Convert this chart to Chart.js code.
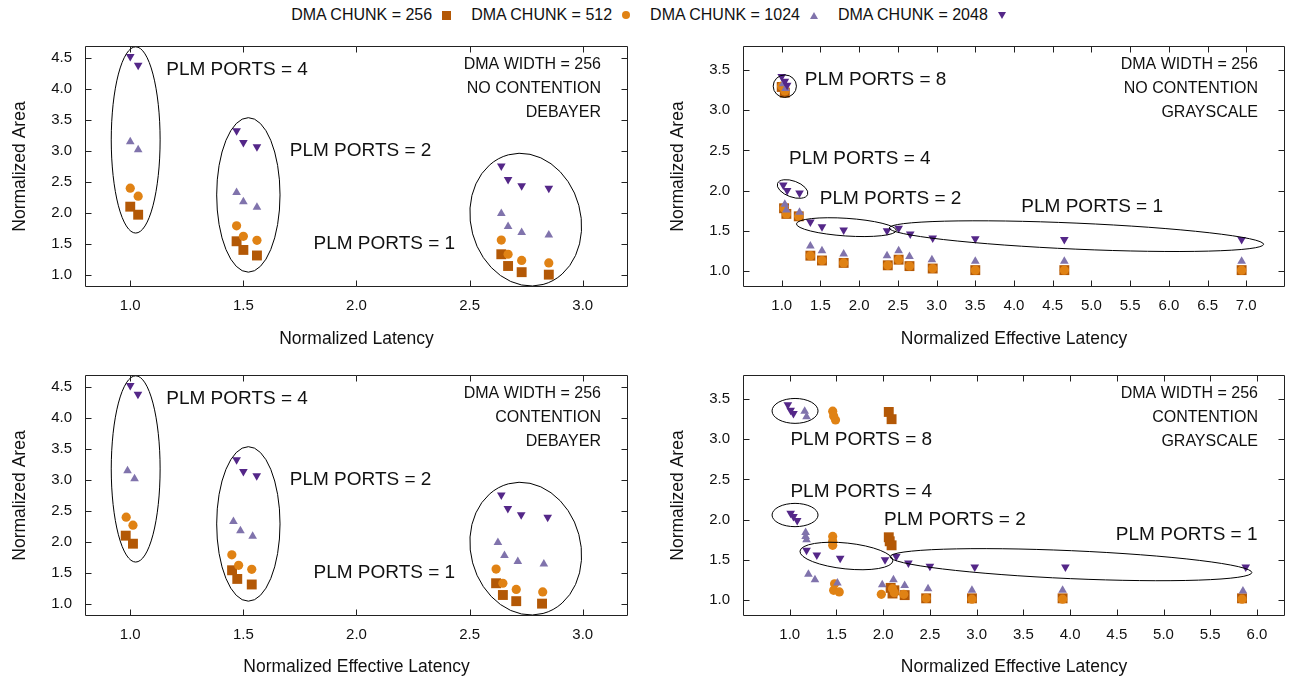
<!DOCTYPE html>
<html lang="en">
<head>
<meta charset="UTF-8">
<title>DMA chunk / PLM ports</title>
<script src="https://cdn.jsdelivr.net/npm/chart.js@4.4.1/dist/chart.umd.min.js"></script>
<style>
  body { margin: 0; background: #fff; width: 1297px; height: 681px; position: relative; overflow: hidden;
         font-family: "Liberation Sans", Arial, sans-serif; color: #111; }
  canvas { position: absolute; }
  #legend { position: absolute; top: 4px; left: 0; width: 1297px; display: flex; justify-content: center;
            align-items: center; font-size: 16px; height: 22px; }
  .item { display: flex; align-items: center; margin: 0 10px; }
  .item span.mk { margin-left: 10px; display: inline-block; }
  .sq { width: 9px; height: 9px; background: #b35806; }
  .ci { width: 8px; height: 8px; border-radius: 50%; background: #e08214; }
  .up { width: 0; height: 0; border-left: 4px solid transparent; border-right: 4px solid transparent; border-bottom: 7px solid #8073ac; }
  .dn { width: 0; height: 0; border-left: 4px solid transparent; border-right: 4px solid transparent; border-top: 7px solid #542788; }
</style>
</head>
<body>
<div id="legend">
  <div class="item">DMA CHUNK = 256<span class="mk sq"></span></div>
  <div class="item">DMA CHUNK = 512<span class="mk ci"></span></div>
  <div class="item">DMA CHUNK = 1024<span class="mk up"></span></div>
  <div class="item">DMA CHUNK = 2048<span class="mk dn"></span></div>
</div>
<canvas id="c1" width="648" height="330" style="left:0;top:30px"></canvas>
<canvas id="c2" width="639" height="330" style="left:658px;top:30px"></canvas>
<canvas id="c3" width="648" height="322" style="left:0;top:359px"></canvas>
<canvas id="c4" width="639" height="322" style="left:658px;top:359px"></canvas>
<script>
// series: [normalized latency, normalized area]
// debayer, no contention
const debNo256  = [[1.0,2.10],[1.035,1.97],[1.47,1.54],[1.50,1.40],[1.56,1.31],[2.64,1.33],[2.67,1.14],[2.73,1.04],[2.85,1.00]];
const debNo512  = [[1.0,2.40],[1.035,2.27],[1.47,1.79],[1.50,1.62],[1.56,1.555],[2.64,1.56],[2.67,1.33],[2.73,1.23],[2.85,1.19]];
const debNo1024 = [[1.0,3.15],[1.035,3.02],[1.47,2.33],[1.50,2.18],[1.56,2.09],[2.64,1.99],[2.67,1.78],[2.73,1.68],[2.85,1.64]];
const debNo2048 = [[1.0,4.53],[1.035,4.39],[1.47,3.33],[1.50,3.14],[1.56,3.07],[2.64,2.76],[2.67,2.54],[2.73,2.44],[2.85,2.40]];
// debayer, contention
const debCo256  = [[0.98,2.10],[1.012,1.97],[1.45,1.54],[1.473,1.40],[1.537,1.31],[2.617,1.33],[2.647,1.14],[2.706,1.04],[2.82,1.00]];
const debCo512  = [[0.982,2.40],[1.012,2.27],[1.449,1.79],[1.479,1.62],[1.537,1.555],[2.617,1.56],[2.647,1.33],[2.706,1.23],[2.823,1.19]];
const debCo1024 = [[0.988,3.15],[1.019,3.02],[1.456,2.33],[1.487,2.18],[1.541,2.09],[2.625,1.99],[2.654,1.78],[2.713,1.68],[2.828,1.64]];
const debCo2048 = [[1.0,4.53],[1.034,4.39],[1.47,3.33],[1.50,3.14],[1.559,3.07],[2.64,2.76],[2.669,2.54],[2.728,2.44],[2.845,2.40]];
// grayscale, no contention
const grNo256  = [[1.0,3.29],[1.04,3.22],[1.03,1.78],[1.06,1.71],[1.22,1.68],[1.37,1.19],[1.52,1.13],[1.80,1.10],[2.37,1.07],[2.51,1.14],[2.65,1.06],[2.95,1.03],[3.5,1.01],[4.65,1.01],[6.94,1.01]];
const grNo512  = [[1.0,3.30],[1.04,3.24],[1.03,1.78],[1.06,1.71],[1.22,1.68],[1.37,1.19],[1.52,1.13],[1.80,1.10],[2.37,1.07],[2.51,1.14],[2.65,1.06],[2.95,1.03],[3.5,1.01],[4.65,1.01],[6.94,1.01]];
const grNo1024 = [[1.02,3.33],[1.05,3.27],[1.04,1.83],[1.06,1.76],[1.23,1.73],[1.37,1.31],[1.52,1.25],[1.80,1.21],[2.36,1.19],[2.51,1.25],[2.65,1.18],[2.94,1.14],[3.5,1.12],[4.65,1.12],[6.94,1.12]];
const grNo2048 = [[1.0,3.42],[1.04,3.36],[1.07,3.31],[1.02,2.07],[1.07,2.00],[1.23,1.97],[1.37,1.61],[1.52,1.55],[1.80,1.51],[2.36,1.50],[2.51,1.53],[2.66,1.46],[2.95,1.41],[3.5,1.40],[4.65,1.39],[6.94,1.39]];
// grayscale, contention
const grCo256  = [[2.06,3.34],[2.09,3.25],[2.06,1.78],[2.07,1.73],[2.09,1.68],[2.08,1.15],[2.10,1.08],[2.12,1.12],[2.23,1.06],[2.46,1.02],[2.95,1.02],[3.92,1.02],[5.84,1.02]];
const grCo512  = [[1.46,3.35],[1.47,3.29],[1.49,3.24],[1.46,1.79],[1.46,1.73],[1.46,1.68],[1.48,1.20],[1.47,1.12],[1.53,1.10],[1.98,1.07],[2.10,1.14],[2.12,1.09],[2.22,1.07],[2.46,1.02],[2.95,1.01],[3.92,1.01],[5.84,1.01]];
const grCo1024 = [[1.16,3.35],[1.18,3.28],[1.17,1.84],[1.17,1.79],[1.18,1.75],[1.20,1.32],[1.27,1.25],[1.51,1.21],[1.99,1.19],[2.11,1.25],[2.23,1.18],[2.48,1.14],[2.95,1.12],[3.92,1.12],[5.85,1.11]];
const grCo2048 = [[0.98,3.43],[1.01,3.36],[1.04,3.32],[1.01,2.08],[1.04,2.04],[1.08,1.99],[1.18,1.62],[1.29,1.56],[1.54,1.52],[2.02,1.50],[2.14,1.54],[2.27,1.46],[2.50,1.42],[2.98,1.41],[3.95,1.41],[5.88,1.41]];

const chunkLabels = ['DMA CHUNK = 256', 'DMA CHUNK = 512', 'DMA CHUNK = 1024', 'DMA CHUNK = 2048'];
const xTicksDeb = [1.0, 1.5, 2.0, 2.5, 3.0];
const yTicksDeb = [1.0, 1.5, 2.0, 2.5, 3.0, 3.5, 4.0, 4.5];
const xTicksGrNo = [1.0, 1.5, 2.0, 2.5, 3.0, 3.5, 4.0, 4.5, 5.0, 5.5, 6.0, 6.5, 7.0];
const xTicksGrCo = [1.0, 1.5, 2.0, 2.5, 3.0, 3.5, 4.0, 4.5, 5.0, 5.5, 6.0];
const yTicksGr = [1.0, 1.5, 2.0, 2.5, 3.0, 3.5];

const colors = ['#b35806', '#e08214', '#8073ac', '#542788'];
const FONT = '"Liberation Sans", Arial, sans-serif';

// ellipses: [cx, cy, rx, ry, angle(deg)] in data units
const ellDeb = [[1.024, 3.18, 0.108, 1.507, 0], [1.522, 2.29, 0.14, 1.25, 0], [2.748, 1.89, 0.243, 1.086, -15]];
const ellGrNo = [[1.04, 3.30, 0.15, 0.14, 0], [1.14, 2.02, 0.207, 0.10, 20], [1.835, 1.545, 0.646, 0.11, 3.8], [4.806, 1.433, 2.42, 0.162, 2.5]];
const ellGrCo = [[1.057, 3.353, 0.246, 0.155, 0], [1.057, 2.057, 0.246, 0.145, 0], [1.607, 1.547, 0.5, 0.161, 6], [4.009, 1.439, 1.938, 0.174, 2.5]];

const framePlugin = {
  id: 'frame',
  afterDraw(chart, args, opts) {
    const ctx = chart.ctx, a = chart.chartArea;
    const xs = chart.scales.x, ys = chart.scales.y;
    ctx.save();
    // ellipses
    ctx.strokeStyle = '#000';
    ctx.lineWidth = 1;
    opts.ellipses.forEach(e => {
      const cx = xs.getPixelForValue(e[0]), cy = ys.getPixelForValue(e[1]);
      const rx = Math.abs(xs.getPixelForValue(e[0] + e[2]) - cx);
      const ry = Math.abs(ys.getPixelForValue(e[1] + e[3]) - cy);
      ctx.beginPath();
      ctx.ellipse(cx, cy, rx, ry, e[4] * Math.PI / 180, 0, 2 * Math.PI);
      ctx.stroke();
    });
    // border and inward ticks
    ctx.strokeStyle = '#222';
    const L = Math.round(a.left) + 0.5, R = Math.round(a.right) - 0.5;
    const T = Math.round(a.top) + 0.5, B = Math.round(a.bottom) - 0.5;
    ctx.beginPath();
    ctx.rect(L, T, R - L, B - T);
    xs.ticks.forEach(t => {
      const p = Math.round(xs.getPixelForValue(t.value)) + 0.5;
      ctx.moveTo(p, B); ctx.lineTo(p, B - 6);
      ctx.moveTo(p, T); ctx.lineTo(p, T + 6);
    });
    ys.ticks.forEach(t => {
      const p = Math.round(ys.getPixelForValue(t.value)) + 0.5;
      ctx.moveTo(L, p); ctx.lineTo(L + 6, p);
      ctx.moveTo(R, p); ctx.lineTo(R - 6, p);
    });
    ctx.stroke();
    // text labels
    ctx.fillStyle = '#111';
    ctx.textBaseline = 'middle';
    ctx.font = '19px ' + FONT;
    ctx.textAlign = 'left';
    opts.notes.forEach(n => {
      ctx.fillText(n[2], xs.getPixelForValue(n[0]), ys.getPixelForValue(n[1]));
    });
    ctx.font = '16px ' + FONT;
    ctx.textAlign = 'right';
    opts.corner.forEach((s, i) => {
      ctx.fillText(s, a.right - 27, a.top + 19 + 24 * i);
    });
    ctx.restore();
  }
};

function toXY(arr) { return arr.map(p => ({ x: p[0], y: p[1] })); }

function makePanel(id, p) {
  const styles = [
    { pointStyle: 'rect', pointRadius: 7, rotation: 0 },
    { pointStyle: 'circle', pointRadius: 4.6, rotation: 0 },
    { pointStyle: 'triangle', pointRadius: 5, rotation: 0 },
    { pointStyle: 'triangle', pointRadius: 5, rotation: 180 }
  ];
  const datasets = p.series.map((s, i) => ({
    label: chunkLabels[i],
    data: toXY(s),
    pointStyle: styles[i].pointStyle,
    pointRadius: styles[i].pointRadius,
    pointHoverRadius: styles[i].pointRadius,
    rotation: styles[i].rotation,
    backgroundColor: colors[i],
    borderColor: colors[i],
    borderWidth: 0,
    order: 4 - i
  }));
  const tickFont = { family: FONT, size: 15 };
  const titleFont = { family: FONT, size: 17.5 };
  new Chart(document.getElementById(id), {
    type: 'scatter',
    data: { datasets },
    options: {
      responsive: false,
      animation: false,
      devicePixelRatio: 1,
      events: [],
      layout: { padding: { top: 16, right: p.padRight, left: 0, bottom: 0 } },
      plugins: {
        legend: { display: false },
        tooltip: { enabled: false },
        frame: { ellipses: p.ellipses, notes: p.notes, corner: p.corner }
      },
      scales: {
        x: {
          type: 'linear', min: p.xMin, max: p.xMax,
          afterBuildTicks: ax => { ax.ticks = p.xTicks.map(v => ({ value: v })); },
          afterFit: ax => { ax.height = p.xAxisH; ax.paddingLeft = 0; ax.paddingRight = 0; },
          grid: { display: false, drawTicks: false }, border: { display: false },
          ticks: { font: tickFont, color: '#111', padding: 10, maxRotation: 0, callback: v => Number(v).toFixed(1) },
          title: { display: true, text: p.xTitle, color: '#111', font: titleFont, padding: { top: 0, bottom: p.xTitlePad } }
        },
        y: {
          type: 'linear', min: p.yMin, max: p.yMax,
          afterBuildTicks: ax => { ax.ticks = p.yTicks.map(v => ({ value: v })); },
          afterFit: ax => { ax.width = 85; ax.paddingTop = 0; ax.paddingBottom = 0; },
          grid: { display: false, drawTicks: false }, border: { display: false },
          ticks: { font: tickFont, color: '#111', padding: 13, callback: v => Number(v).toFixed(1) },
          title: { display: true, text: 'Normalized Area', color: '#111', font: titleFont, padding: { top: 9.5, bottom: 0 } }
        }
      }
    },
    plugins: [framePlugin]
  });
}

makePanel('c1', {
  series: [debNo256, debNo512, debNo1024, debNo2048],
  xMin: 0.8, xMax: 3.2, yMin: 0.8, yMax: 4.7, xTicks: xTicksDeb, yTicks: yTicksDeb,
  xTitle: 'Normalized Latency', xAxisH: 73, xTitlePad: 10.5, padRight: 20,
  ellipses: ellDeb,
  notes: [[1.159, 4.31, 'PLM PORTS = 4'], [1.705, 3.0, 'PLM PORTS = 2'], [1.81, 1.507, 'PLM PORTS = 1']],
  corner: ['DMA WIDTH = 256', 'NO CONTENTION', 'DEBAYER']
});
makePanel('c2', {
  series: [grNo256, grNo512, grNo1024, grNo2048],
  xMin: 0.5, xMax: 7.5, yMin: 0.8, yMax: 3.8, xTicks: xTicksGrNo, yTicks: yTicksGr,
  xTitle: 'Normalized Effective Latency', xAxisH: 73, xTitlePad: 10.5, padRight: 12,
  ellipses: ellGrNo,
  notes: [[1.297, 3.384, 'PLM PORTS = 8'], [1.094, 2.40, 'PLM PORTS = 4'], [1.491, 1.904, 'PLM PORTS = 2'], [4.095, 1.80, 'PLM PORTS = 1']],
  corner: ['DMA WIDTH = 256', 'NO CONTENTION', 'GRAYSCALE']
});
makePanel('c3', {
  series: [debCo256, debCo512, debCo1024, debCo2048],
  xMin: 0.8, xMax: 3.2, yMin: 0.8, yMax: 4.7, xTicks: xTicksDeb, yTicks: yTicksDeb,
  xTitle: 'Normalized Effective Latency', xAxisH: 65, xTitlePad: 3.5, padRight: 20,
  ellipses: ellDeb,
  notes: [[1.159, 4.31, 'PLM PORTS = 4'], [1.705, 3.0, 'PLM PORTS = 2'], [1.81, 1.507, 'PLM PORTS = 1']],
  corner: ['DMA WIDTH = 256', 'CONTENTION', 'DEBAYER']
});
makePanel('c4', {
  series: [grCo256, grCo512, grCo1024, grCo2048],
  xMin: 0.5, xMax: 6.3, yMin: 0.8, yMax: 3.8, xTicks: xTicksGrCo, yTicks: yTicksGr,
  xTitle: 'Normalized Effective Latency', xAxisH: 65, xTitlePad: 3.5, padRight: 12,
  ellipses: ellGrCo,
  notes: [[1.0075, 2.99, 'PLM PORTS = 8'], [1.0075, 2.347, 'PLM PORTS = 4'], [2.01, 2.0, 'PLM PORTS = 2'], [4.49, 1.81, 'PLM PORTS = 1']],
  corner: ['DMA WIDTH = 256', 'CONTENTION', 'GRAYSCALE']
});
</script>
</body>
</html>
